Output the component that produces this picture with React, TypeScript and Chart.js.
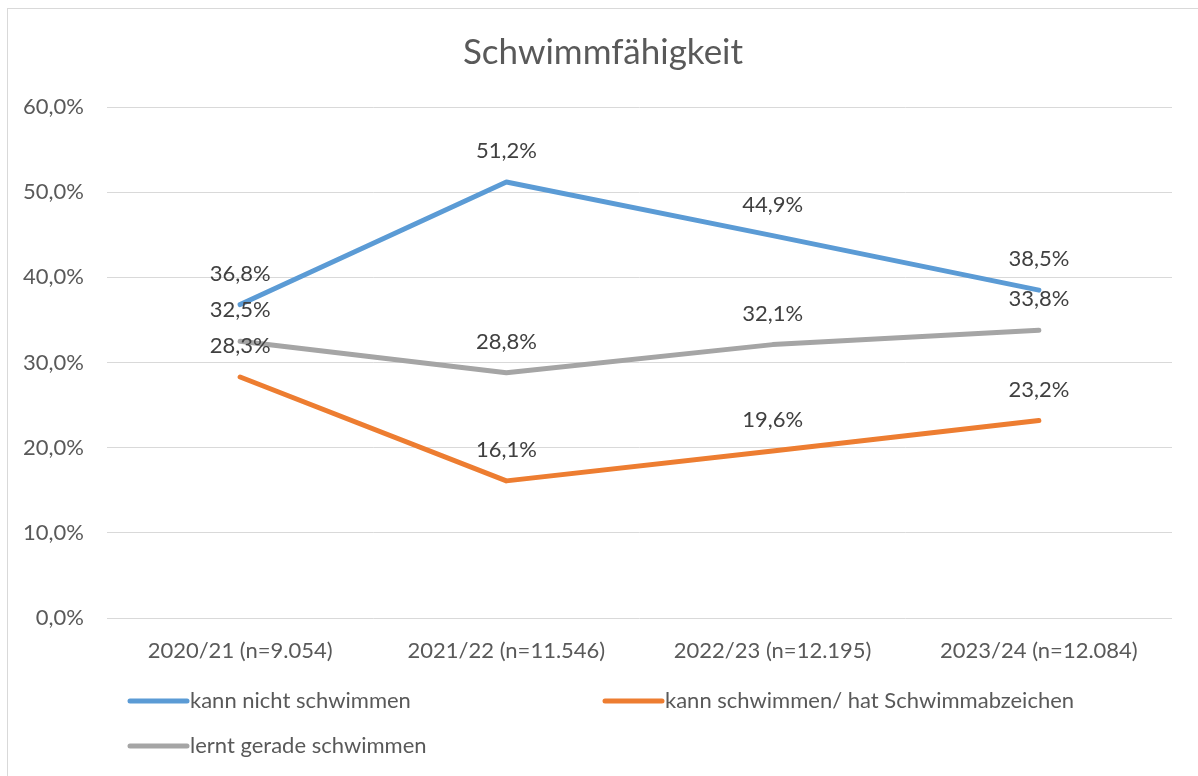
import React, { useEffect, useRef } from "react";
import { Chart, registerables } from "chart.js";

Chart.register(...registerables);

const chartTitle = "Schwimmfähigkeit";
const categories = [
  "2020/21 (n=9.054)",
  "2021/22 (n=11.546)",
  "2022/23 (n=12.195)",
  "2023/24 (n=12.084)",
];
const kannNichtSchwimmen = [36.8, 51.2, 44.9, 38.5];
const kannSchwimmen = [28.3, 16.1, 19.6, 23.2];
const lerntGerade = [32.5, 28.8, 32.1, 33.8];
const seriesNames = [
  "kann nicht schwimmen",
  "kann schwimmen/ hat Schwimmabzeichen",
  "lernt gerade schwimmen",
];
const yMin = 0;
const yMax = 60;
const yStep = 10;

const FONT = "Lato, 'Open Sans', sans-serif";
const TXT = 22;
const fmt = (v: number) => v.toFixed(1).replace(".", ",") + "%";

const titlePlugin = {
  id: "centeredTitle",
  afterDraw(chart: any) {
    const ctx = chart.ctx;
    ctx.save();
    ctx.font = `35px ${FONT}`;
    ctx.fillStyle = "#595959";
    ctx.textAlign = "center";
    ctx.textBaseline = "middle";
    ctx.fillText(chartTitle, chart.width / 2, 44);
    ctx.restore();
  },
};

const dataLabelPlugin = {
  id: "dataLabels",
  afterDatasetsDraw(chart: any) {
    const ctx = chart.ctx;
    ctx.save();
    ctx.font = `${TXT}px ${FONT}`;
    ctx.fillStyle = "#404040";
    ctx.textAlign = "center";
    ctx.textBaseline = "middle";
    chart.data.datasets.forEach((ds: any, i: number) => {
      const meta = chart.getDatasetMeta(i);
      meta.data.forEach((pt: any, j: number) => {
        ctx.fillText(fmt(ds.data[j]), pt.x, pt.y - 31);
      });
    });
    ctx.restore();
  },
};

const legendPlugin = {
  id: "customLegend",
  afterDraw(chart: any) {
    const ctx = chart.ctx;
    const slots = [
      { x: 122, y: 692 },
      { x: 597, y: 692 },
      { x: 122, y: 737 },
    ];
    ctx.save();
    ctx.font = `${TXT}px ${FONT}`;
    ctx.textBaseline = "middle";
    ctx.textAlign = "left";
    chart.data.datasets.forEach((ds: any, i: number) => {
      const s = slots[i];
      ctx.strokeStyle = ds.borderColor;
      ctx.lineWidth = 5;
      ctx.lineCap = "round";
      ctx.beginPath();
      ctx.moveTo(s.x, s.y);
      ctx.lineTo(s.x + 57, s.y);
      ctx.stroke();
      ctx.fillStyle = "#595959";
      ctx.fillText(ds.label, s.x + 60, s.y);
    });
    ctx.restore();
  },
};

export default function App() {
  const ref = useRef<HTMLCanvasElement>(null);
  useEffect(() => {
    if (!ref.current) return;
    const chart = new Chart(ref.current, {
      type: "line",
      data: {
        labels: categories,
        datasets: [
          {
            label: seriesNames[0],
            data: kannNichtSchwimmen,
            borderColor: "#5B9BD5",
            backgroundColor: "#5B9BD5",
          },
          {
            label: seriesNames[1],
            data: kannSchwimmen,
            borderColor: "#ED7D31",
            backgroundColor: "#ED7D31",
          },
          {
            label: seriesNames[2],
            data: lerntGerade,
            borderColor: "#A5A5A5",
            backgroundColor: "#A5A5A5",
          },
        ].map((d) => ({
          ...d,
          borderWidth: 5,
          borderCapStyle: "round" as const,
          borderJoinStyle: "round" as const,
          pointRadius: 0,
          tension: 0,
        })),
      },
      options: {
        responsive: false,
        animation: false,
        layout: { padding: { left: 0, right: 26, top: 98, bottom: 114 } },
        plugins: {
          legend: { display: false },
          tooltip: { enabled: false },
          title: { display: false },
        },
        scales: {
          x: {
            offset: true,
            afterFit: (scale: any) => {
              scale.height = 44;
            },
            grid: { display: false, drawTicks: false },
            border: { display: false },
            ticks: {
              color: "#595959",
              font: { family: FONT, size: TXT },
              padding: 20,
              maxRotation: 0,
              autoSkip: false,
            },
          },
          y: {
            min: yMin,
            max: yMax,
            afterFit: (scale: any) => {
              scale.width = 99;
            },
            grid: { color: "#D9D9D9", lineWidth: 1, drawTicks: false },
            border: { display: false },
            ticks: {
              stepSize: yStep,
              color: "#595959",
              font: { family: FONT, size: TXT },
              padding: 23,
              callback: (v: any) => fmt(Number(v)),
            },
          },
        },
      },
      plugins: [titlePlugin, dataLabelPlugin, legendPlugin],
    });
    return () => chart.destroy();
  }, []);

  return (
    <div
      style={{
        position: "fixed",
        left: 7,
        top: 8,
        width: 1200,
        height: 800,
        border: "1px solid #D9D9D9",
        background: "#fff",
      }}
    >
      <canvas ref={ref} width={1190} height={767} style={{ width: 1190, height: 767, display: "block" }} />
    </div>
  );
}
